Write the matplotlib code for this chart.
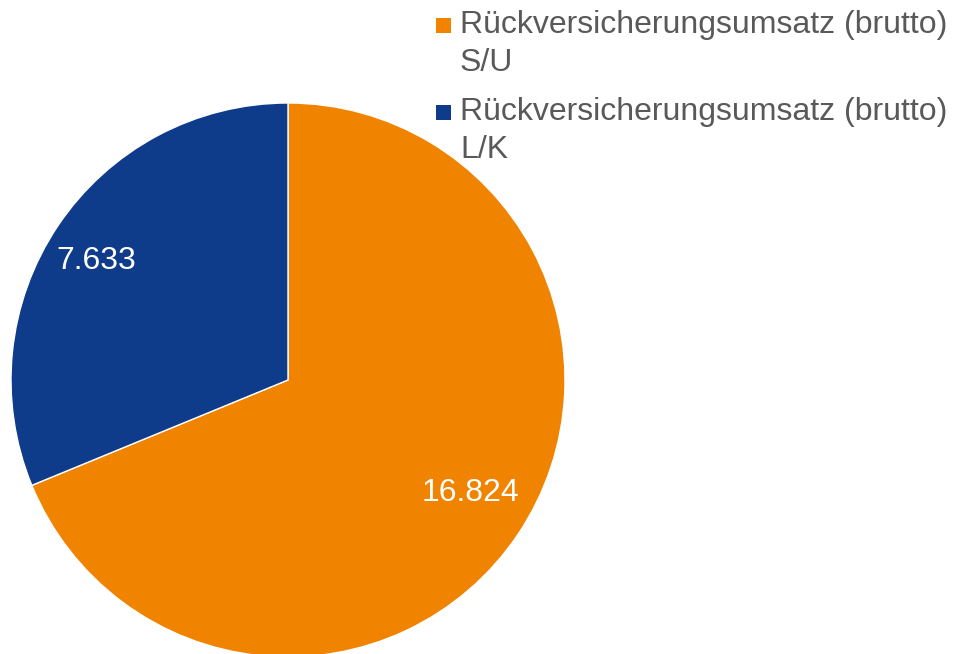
import numpy as np
import matplotlib
matplotlib.use('Agg')
import matplotlib.pyplot as plt
from matplotlib.patches import Rectangle

plt.rcParams['font.family'] = ['Liberation Sans', 'DejaVu Sans']

labels = ['Rückversicherungsumsatz (brutto)\nS/U', 'Rückversicherungsumsatz (brutto)\nL/K']
values = [16824, 7633]
colors = ['#F08300', '#0F3C8A']

W, H = 962, 654
fig = plt.figure(figsize=(W / 100, H / 100), dpi=100)

cx, cy, r = 288, 380, 277
ax = fig.add_axes([(cx - r) / W, (H - cy - r) / H, 2 * r / W, 2 * r / H])


def fmt(v):
    return f'{v:,.0f}'.replace(',', '.')


wedges, texts, autotexts = ax.pie(values, colors=colors, startangle=90, counterclock=False,
                                  wedgeprops=dict(edgecolor='white', linewidth=1),
                                  autopct=lambda p: fmt(p * sum(values) / 100),
                                  textprops=dict(color='white', fontsize=23))
# label distance from centre, per slice
dists = [0.775, 0.815]
for w, t, d in zip(wedges, autotexts, dists):
    ang = np.deg2rad((w.theta1 + w.theta2) / 2 + 2)
    t.set_position((d * np.cos(ang), d * np.sin(ang)))
ax.set_xlim(-1, 1)
ax.set_ylim(-1, 1)
ax.set_aspect('equal')

# legend drawn by hand: square aligned with first line of each label
baselines = [33, 120]
line_step = 38
for lab, col, yb in zip(labels, colors, baselines):
    fig.add_artist(Rectangle((436 / W, 1 - (yb - 0.5) / H), 15 / W, 14 / H,
                             transform=fig.transFigure, color=col, lw=0))
    for j, line in enumerate(lab.split('\n')):
        fig.text(460 / W, 1 - (yb + j * line_step) / H, line, fontsize=23,
                 color='#595959', ha='left', va='baseline')

fig.savefig('out.png', dpi=100)
